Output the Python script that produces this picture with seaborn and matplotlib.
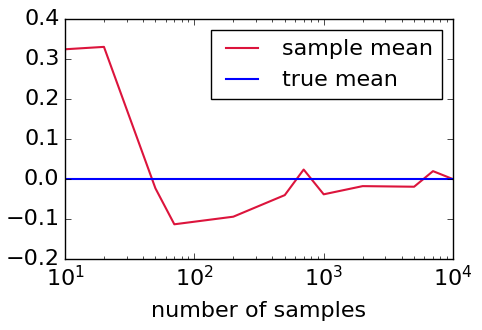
import matplotlib
matplotlib.use("Agg")
import matplotlib.pyplot as plt
import seaborn as sns
import pandas as pd

n_samples = [10, 20, 50, 70, 200, 500, 700, 1000, 2000, 5000, 7000, 10000]
sample_mean = [0.325, 0.331, -0.023, -0.113, -0.094, -0.040, 0.024, -0.038, -0.0175, -0.019, 0.020, 0.0]
true_mean = [0.0] * len(n_samples)

plt.style.use("classic")
plt.rcParams["font.family"] = ["DejaVu Sans"]

df = pd.DataFrame({"n": n_samples, "sample": sample_mean, "true": true_mean})

fig = plt.figure(figsize=(4.82, 3.30), dpi=100)
ax = fig.add_axes([0.1349, 0.215, 0.805, 0.7265])
sns.lineplot(data=df, x="n", y="sample", color="crimson", lw=1.5, ax=ax, label="sample mean")
sns.lineplot(data=df, x="n", y="true", color="blue", lw=1.5, ax=ax, label="true mean")
ax.set_xscale("log")
ax.set_xlim(10, 10000)
ax.set_ylim(-0.2, 0.4)
ax.set_yticks([-0.2, -0.1, 0.0, 0.1, 0.2, 0.3, 0.4])
ax.set_xlabel("number of samples", fontsize=16, labelpad=8)
ax.set_ylabel("")
ax.tick_params(labelsize=16)
ax.legend(loc="upper right", fontsize=16)
fig.savefig("out.png", dpi=100)
